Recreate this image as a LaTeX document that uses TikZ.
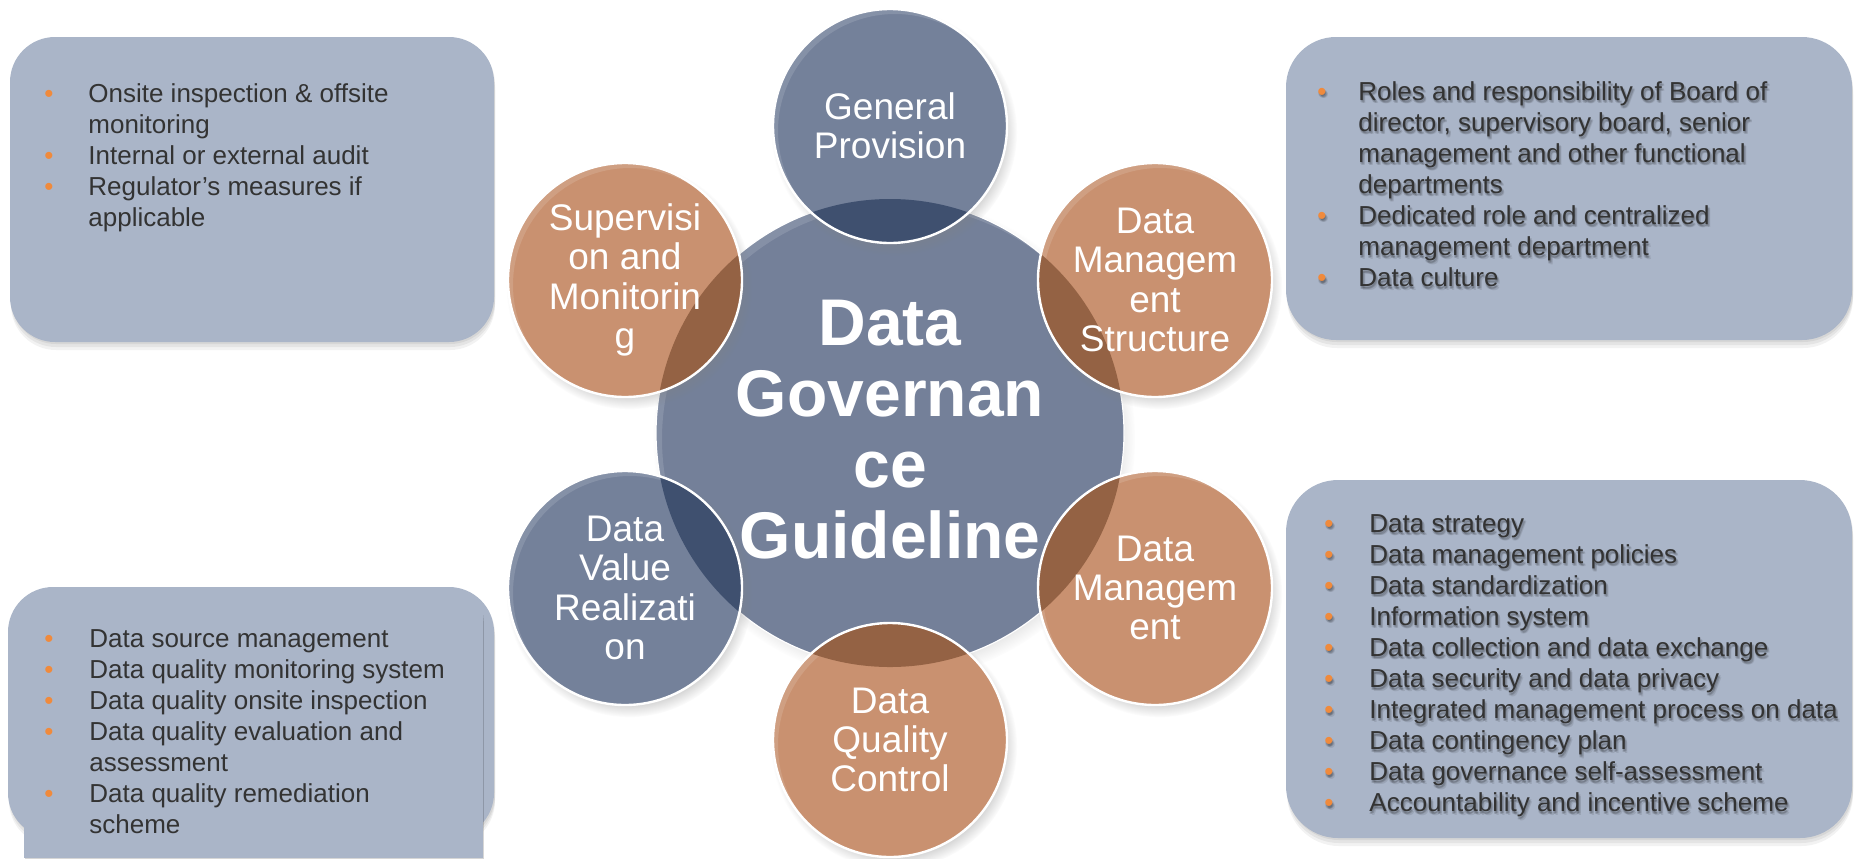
\documentclass[tikz,border=0pt]{standalone}
\usepackage{fontspec}
\setmainfont{Liberation Sans}
\usetikzlibrary{shadows}
\definecolor{boxfill}{HTML}{AAB5C8}
\definecolor{bluec}{HTML}{74819A}
\definecolor{bigc}{HTML}{748099}
\definecolor{blueov}{HTML}{3F506F}
\definecolor{orangec}{HTML}{C99170}
\definecolor{orangeov}{HTML}{946244}
\definecolor{txtc}{HTML}{333333}
\definecolor{bulc}{HTML}{F08A3C}
\newcommand\obul{\textcolor{bulc}{•}}
\tikzset{
  softshadow/.style={
    preaction={fill=black,opacity=0.06,transform canvas={xshift=0.5pt,yshift=-1pt}},
    preaction={fill=black,opacity=0.06,transform canvas={xshift=0.5pt,yshift=-2.5pt}},
    preaction={fill=black,opacity=0.05,transform canvas={xshift=0.5pt,yshift=-4pt}}},
  infobox/.style={fill=boxfill,softshadow},
  smallc/.style={circle,minimum size=117pt,inner sep=0pt,
    circular drop shadow={shadow xshift=2pt,shadow yshift=-3pt,shadow scale=1.05,opacity=0.45}},
  ctext/.style={text=white,align=center,inner sep=0pt,font=\fontsize{18.5}{19.7}\selectfont},
  bigtext/.style={text=white,align=center,inner sep=0pt,font=\bfseries\fontsize{33}{35.5}\selectfont},
  listtext/.style={anchor=base west,inner sep=0pt,text=txtc,font=\fontsize{13}{15.55}\selectfont},
  listshadow/.style={listtext,text=black,text opacity=0.09},
}
\newcommand\mycirc[5]{%
  \node[smallc,fill=#3] (#1) at #2 {};
  \begin{scope}
    \clip (#1.center) circle (58.5pt);
    \fill[white,opacity=0.13,even odd rule] (#1.center) circle (58.5pt) ([shift={(5,5)}]#1.center) circle (58.5pt);
  \end{scope}
  \begin{scope}
    \clip (cC) circle (117pt);
    \fill[#4] (#1.center) circle (58.5pt);
  \end{scope}
  \draw[white,line width=1.2pt] (#1.center) circle (58.5pt);
  \node[ctext] (#1t) at #2 {#5};
}
% list with blurred-looking text shadow
\newcommand\shadowlist[4]{% #1 name, #2 x, #3 y, #4 content
  \foreach \dx/\dy [count=\k] in {0.5/1.5,2/2,1/3,2.5/3.5,0/2.5}{
    \node[listshadow] (#1s\k) at (#2+\dx,#3+\dy) {\renewcommand\obul{•}#4};
  }
  \node[listtext] (#1) at (#2,#3) {#4};
}
\begin{document}
\begin{tikzpicture}[x=0.5pt,y=-0.5pt]
\useasboundingbox (0,0) rectangle (1855,858);

% ---------- boxes ----------
\path[infobox,rounded corners=22.5pt] (10,37) rectangle (494,342);
\path[infobox,rounded corners=25pt] (1286,37) rectangle (1852,340);
\path[infobox,rounded corners=26pt] (1286,480) rectangle (1852,838);
\path[infobox,rounded corners=22.5pt] (8,587) rectangle (494,838);
\path[infobox] (24,613) rectangle (483,858);

% ---------- box texts ----------
\node[listtext] (tl) at (44,102) {\begin{tabular}[t]{@{}p{22pt}@{}l@{}}
\obul & Onsite inspection \& offsite\\
 & monitoring\\
\obul & Internal or external audit\\
\obul & Regulator’s measures if\\
 & applicable
\end{tabular}};

\shadowlist{tr}{1317}{100}{\begin{tabular}[t]{@{}p{20.5pt}@{}l@{}}
\obul & Roles and responsibility of Board of\\
 & director, supervisory board, senior\\
 & management and other functional\\
 & departments\\
\obul & Dedicated role and centralized\\
 & management department\\
\obul & Data culture
\end{tabular}}

\shadowlist{br}{1324}{532}{\begin{tabular}[t]{@{}p{22.5pt}@{}l@{}}
\obul & Data strategy\\
\obul & Data management policies\\
\obul & Data standardization\\
\obul & Information system\\
\obul & Data collection and data exchange\\
\obul & Data security and data privacy\\
\obul & Integrated management process on data\\
\obul & Data contingency plan\\
\obul & Data governance self-assessment\\
\obul & Accountability and incentive scheme
\end{tabular}}

\node[listtext] (bl) at (44,647) {\begin{tabular}[t]{@{}p{22.5pt}@{}l@{}}
\obul & Data source management\\
\obul & Data quality monitoring system\\
\obul & Data quality onsite inspection\\
\obul & Data quality evaluation and\\
 & assessment\\
\obul & Data quality remediation\\
 & scheme
\end{tabular}};

% ---------- circles ----------
\coordinate (cC) at (890,433);
\node[circle,minimum size=234pt,inner sep=0pt,fill=bigc,
  circular drop shadow={shadow xshift=2pt,shadow yshift=-3pt,shadow scale=1.03,opacity=0.4}] (big) at (cC) {};
\begin{scope}
  \clip (cC) circle (117pt);
  \fill[white,opacity=0.13,even odd rule] (cC) circle (117pt) ([shift={(6,6)}]cC) circle (117pt);
\end{scope}
\draw[white,line width=0.6pt] (cC) circle (117pt);

\mycirc{gp}{(890,126)}{bluec}{blueov}{General\\Provision}
\mycirc{sm}{(625,280)}{orangec}{orangeov}{Supervisi\\on and\\Monitorin\\g}
\mycirc{dms}{(1155,280)}{orangec}{orangeov}{Data\\Managem\\ent\\Structure}
\mycirc{dm}{(1155,588)}{orangec}{orangeov}{Data\\Managem\\ent}
\mycirc{dqc}{(890,740)}{orangec}{orangeov}{Data\\Quality\\Control}
\mycirc{dvr}{(625,588)}{bluec}{blueov}{Data\\Value\\Realizati\\on}

\node[bigtext] (bigt) at (890,430) {Data\\Governan\\ce\\Guideline};
\end{tikzpicture}
\end{document}
